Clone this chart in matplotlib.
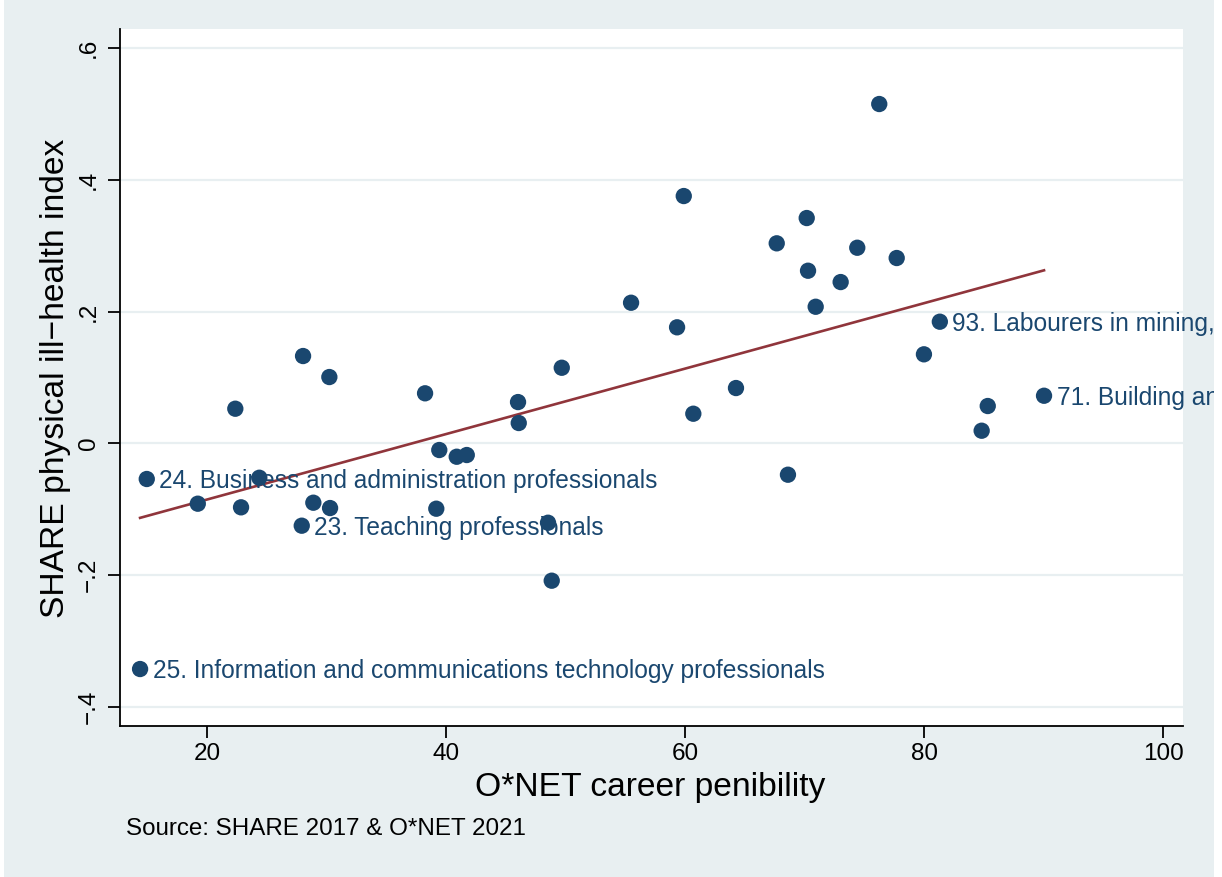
import numpy as np
import matplotlib
matplotlib.use("Agg")
import matplotlib.pyplot as plt
from matplotlib.patches import Rectangle
from matplotlib.transforms import Bbox, TransformedBbox

# ---- data ----
penibility = [14.93, 14.37, 19.20, 22.34, 22.82, 24.35, 28.01, 27.90, 28.87, 30.21,
              30.27, 38.22, 39.41, 39.16, 40.87, 41.71, 46.00, 46.06, 48.51, 48.82,
              49.66, 55.46, 59.31, 59.87, 60.67, 64.24, 67.65, 68.59, 70.16, 70.27,
              70.91, 73.00, 74.39, 76.23, 77.69, 79.97, 81.30, 84.80, 85.31, 90.02]
illhealth = [-0.0543, -0.3428, -0.0918, 0.0524, -0.0973, -0.0524, 0.1324, -0.1252, -0.0903, 0.1005,
             -0.0984, 0.0758, -0.0103, -0.0994, -0.0205, -0.0179, 0.0625, 0.0307, -0.1207, -0.2087,
             0.1146, 0.2133, 0.1760, 0.3753, 0.0448, 0.0838, 0.3035, -0.0478, 0.3419, 0.2619,
             0.2072, 0.2447, 0.2968, 0.5150, 0.2812, 0.1350, 0.1845, 0.0190, 0.0565, 0.0721]
labels = {0: "24. Business and administration professionals",
          1: "25. Information and communications technology professionals",
          7: "23. Teaching professionals",
          36: "93. Labourers in mining, construction, manufacturing and transport",
          39: "71. Building and related trades workers"}
xticks = [20, 40, 60, 80, 100]
xticklabels = ["20", "40", "60", "80", "100"]
yticks = [-0.4, -0.2, 0.0, 0.2, 0.4, 0.6]
yticklabels = ["\u2212.4", "\u2212.2", "0", ".2", ".4", ".6"]

# ---- style ----
FONT = "Liberation Sans"
BG = "#E8EFF1"
NAVY = "#1A476F"
MAROON = "#90353B"
W, H = 1222, 877

fig = plt.figure(figsize=(W / 100, H / 100), dpi=100, facecolor="white")
fig.patches.append(Rectangle((4 / W, 0), (1214 - 4) / W, 1, transform=fig.transFigure,
                             facecolor=BG, edgecolor="none", zorder=-10))

ax = fig.add_axes([120 / W, 1 - 726 / H, (1183 - 120) / W, (726 - 29) / H])
ax.set_zorder(1)
ax.set_facecolor("white")
ax.set_xlim(12.69, 101.65)
ax.set_ylim(-0.4293, 0.6289)

for yv in yticks:
    ax.axhline(yv, color=BG, lw=1.6, zorder=1)

x = np.array(penibility)
y = np.array(illhealth)
b, a = np.polyfit(x, y, 1)
xl = np.array([x.min(), x.max()])
ax.plot(xl, a + b * xl, color=MAROON, lw=1.9, zorder=2)

ax.scatter(x, y, s=138, color=NAVY, edgecolors="none", zorder=3)

# marker labels are cut at the right edge of the graph region, as in the reference
clipbox = TransformedBbox(Bbox([[0, 0], [1214 / W, 1]]), fig.transFigure)
for i, txt in labels.items():
    t = ax.annotate(txt, (x[i], y[i]), xytext=(9, -6.4), textcoords="offset points",
                    ha="left", va="baseline", fontsize=17.65, color=NAVY,
                    family=FONT, zorder=4, annotation_clip=False)
    t.set_clip_on(True)
    t.set_clip_box(clipbox)

for s in ["top", "right"]:
    ax.spines[s].set_visible(False)
for s in ["left", "bottom"]:
    ax.spines[s].set_linewidth(1.3)
    ax.spines[s].set_color("black")

ax.set_xticks(xticks)
ax.set_xticklabels(xticklabels, fontsize=17.5, family=FONT)
ax.set_yticks(yticks)
ax.set_yticklabels(yticklabels, fontsize=17.5, family=FONT, rotation=90, va="center")
ax.tick_params(axis="both", length=8.6, width=1.3, color="black")
ax.tick_params(axis="x", pad=4)
ax.tick_params(axis="y", pad=6)

fig.text(650.5 / W, 1 - 796 / H, "O*NET career penibility", fontsize=24.2, family=FONT,
         ha="center", va="baseline")
fig.text(64 / W, 1 - 378 / H, "SHARE physical ill\u2212health index", fontsize=24.2, family=FONT,
         ha="center", va="baseline", rotation=90, rotation_mode="anchor")
fig.text(126 / W, 1 - 835 / H, "Source: SHARE 2017 & O*NET 2021", fontsize=17.4, family=FONT,
         ha="left", va="baseline")

fig.savefig("out.png", dpi=100, facecolor=fig.get_facecolor())
